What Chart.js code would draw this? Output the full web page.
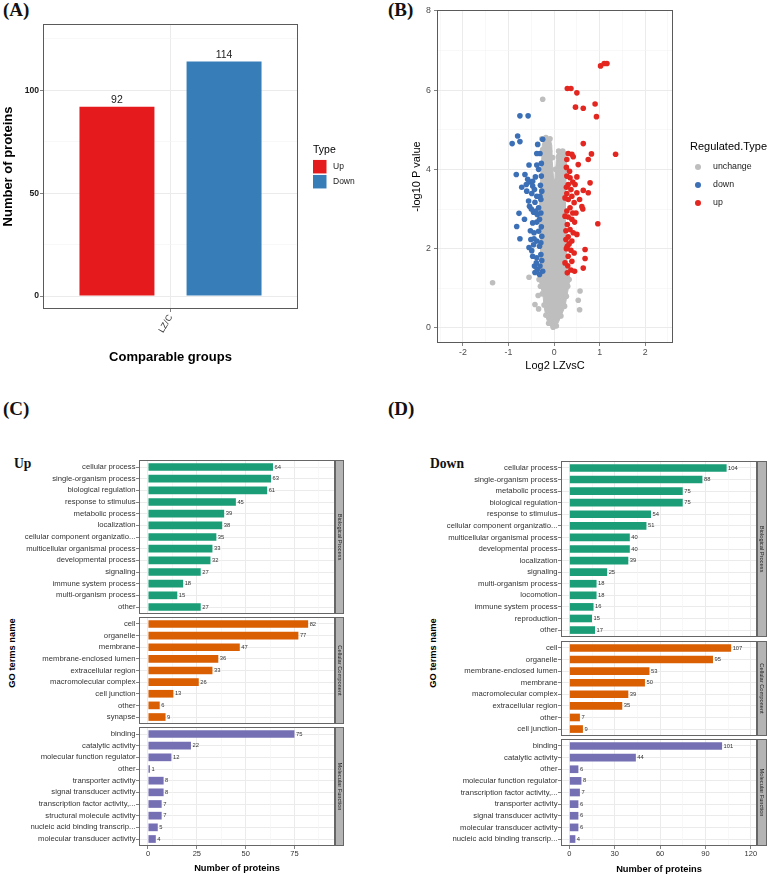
<!DOCTYPE html>
<html>
<head>
<meta charset="utf-8">
<script src="https://cdn.jsdelivr.net/npm/chart.js@4.4.1/dist/chart.umd.min.js"></script>
<style>
  html, body { margin: 0; padding: 0; background: #fff; }
  #fig { position: relative; width: 769px; height: 875px; overflow: hidden; background: #fff; }
  #fig canvas { position: absolute; }
  .tag { position: absolute; font-family: 'Liberation Serif', 'Times New Roman', serif; font-weight: bold; line-height: 1; white-space: nowrap; color: #111; }
  .vtitle { position: absolute; font-family: 'Liberation Sans', Arial, sans-serif; font-weight: bold; font-size: 9.3px; line-height: 1; white-space: nowrap; transform: translate(-50%, -50%) rotate(-90deg); color: #000; }
</style>
</head>
<body>
<div id="fig">
  <div class="tag" style="left:3px;top:0px;font-size:19px">(A)</div>
  <div class="tag" style="left:388px;top:0px;font-size:19px">(B)</div>
  <div class="tag" style="left:3px;top:399px;font-size:19px">(C)</div>
  <div class="tag" style="left:388px;top:399px;font-size:19px">(D)</div>
  <div class="tag" style="left:14px;top:456.6px;font-size:13.6px">Up</div>
  <div class="tag" style="left:430px;top:456.9px;font-size:13.6px">Down</div>
  <div class="vtitle" style="left:13px;top:653px">GO terms name</div>
  <div class="vtitle" style="left:434px;top:653px">GO terms name</div>
  <canvas id="chartA" width="380" height="370" style="left:0;top:0"></canvas>
  <canvas id="chartB" width="389" height="373" style="left:380px;top:0"></canvas>
</div>
<script>
// ---- (A) counts of regulated proteins
var groupLabels = ['LZ/C'];
var upCount = [92];
var downCount = [114];
var aMajorTicks = [0, 50, 100];
var aMinorTicks = [25, 75, 125];

// ---- (B) volcano plot, [log2 FC, -log10 p]
// dense centre of the unchanged cloud (outline)
var coreOutline = [[0.00,-0.03],[0.07,0.08],[0.15,0.29],[0.24,0.54],[0.28,0.80],[0.32,1.04],[0.35,1.25],[0.29,1.55],
  [0.27,2.0],[0.26,2.5],[0.25,3.0],[0.25,3.5],[0.27,3.9],[0.27,4.25],[0.24,4.45],[0.17,4.5],[0.09,4.47],[0.05,4.25],
  [0.02,3.75],[-0.01,3.75],[-0.04,4.2],[-0.05,4.6],[-0.09,4.8],[-0.22,4.8],[-0.26,4.6],[-0.27,4.3],[-0.29,3.9],
  [-0.31,3.3],[-0.31,2.6],[-0.30,2.0],[-0.29,1.6],[-0.34,1.25],[-0.29,1.04],[-0.24,0.79],[-0.22,0.54],[-0.18,0.29],
  [-0.12,0.08],[0.00,-0.03]];
var unchangePoints = [[-1.35,1.14],[-0.55,1.28],[-0.35,0.82],[-0.42,0.59],[-0.34,0.48],[0.57,0.93],[0.53,0.70],[0.56,0.46],
  [-0.25,5.77],[-0.27,4.77],[-0.18,4.80],[-0.09,4.77],[-0.16,4.42],[-0.10,4.46],[0.10,4.46],[0.19,4.46],[0.24,4.40],
  [0.10,4.33],[0.13,4.17],[0.33,1.22],[0.30,1.05],[0.27,0.80],[0.23,0.55],[0.15,0.30],[0.05,0.05],[-0.02,0.02],
  [-0.12,0.12],[-0.18,0.32],[-0.22,0.58],[-0.26,0.86],[-0.30,1.05],[-0.33,1.22],[0.30,1.45],[-0.29,1.50],[0.25,3.6],
  [0.26,4.05],[-0.25,4.5],[-0.03,4.3],[0.03,4.0]];
var downPoints = [[-0.75,5.35],[-0.57,5.35],[-0.80,4.84],[-0.75,4.70],[-0.92,4.65],[-0.36,4.63],[-0.25,4.76],[-0.38,4.40],
  [-0.31,4.40],[-0.55,4.11],[-0.38,4.11],[-0.34,4.00],[-0.83,3.87],[-0.64,3.87],[-0.58,3.75],[-0.53,3.68],[-0.61,3.62],
  [-0.71,3.55],[-0.47,3.58],[-0.60,3.45],[-0.49,3.39],[-0.43,3.49],[-0.38,3.32],[-0.31,3.32],[-0.27,3.45],[-0.56,3.20],
  [-0.54,3.07],[-0.42,3.17],[-0.34,3.03],[-0.45,2.92],[-0.37,2.86],[-0.29,2.90],[-0.77,2.89],[-0.65,2.74],[-0.82,2.56],
  [-0.38,2.67],[-0.47,2.65],[-0.32,2.74],[-0.44,2.40],[-0.34,2.44],[-0.27,2.31],[-0.75,2.25],[-0.51,2.23],[-0.38,2.19],
  [-0.45,2.10],[-0.55,2.03],[-0.32,2.06],[-0.47,1.81],[-0.38,1.77],[-0.29,1.85],[-0.43,1.56],[-0.37,1.47],[-0.31,1.56],
  [-0.32,1.35],[-0.25,1.43],[-0.39,1.64],[-0.29,3.24],[-0.28,3.83],[-0.41,3.81],[-0.47,3.70],[-0.28,2.55],[-0.29,2.15],
  [-0.27,1.70],[-0.30,3.60],[-0.28,4.15],[-0.40,2.95],[-0.44,2.25],[-0.49,1.95],[-0.42,1.40],[-0.50,3.00],[-0.52,2.45]];
var upPoints = [[1.02,6.61],[1.10,6.67],[1.16,6.67],[0.29,6.04],[0.37,6.04],[0.50,5.93],[0.47,5.57],[0.64,5.54],[0.90,5.65],
  [0.93,5.33],[0.64,4.65],[0.82,4.39],[1.35,4.38],[0.75,4.25],[0.53,4.12],[0.31,4.40],[0.39,4.38],[0.42,4.32],[0.28,4.25],
  [0.79,3.66],[0.64,3.47],[0.75,3.41],[0.56,3.24],[0.61,3.06],[0.63,3.00],[0.96,2.63],[0.50,2.36],[0.68,1.98],[0.68,1.75],
  [0.64,1.51],[0.28,3.83],[0.35,3.79],[0.50,3.81],[0.41,3.68],[0.31,3.62],[0.46,3.62],[0.37,3.49],[0.28,3.39],[0.39,3.32],
  [0.31,3.24],[0.44,3.16],[0.35,3.03],[0.28,2.95],[0.41,2.90],[0.31,2.80],[0.39,2.74],[0.45,2.67],[0.29,2.61],[0.35,2.48],
  [0.42,2.40],[0.31,2.30],[0.39,2.19],[0.29,2.06],[0.37,1.96],[0.44,1.89],[0.31,1.81],[0.39,1.68],[0.30,1.57],[0.37,1.46],
  [0.45,1.43],[0.29,1.39],[0.24,3.28],[0.24,2.82],[0.26,2.23],[0.24,1.64],[0.50,3.41],[0.48,2.90],[0.27,3.55],[0.26,2.45],
  [0.27,2.00],[0.33,2.12],[0.34,3.95],[0.27,4.05]];
var bXMajor = [-2, -1, 0, 1, 2];
var bXMinor = [-2.5, -1.5, -0.5, 0.5, 1.5, 2.5];
var bYMajor = [0, 2, 4, 6, 8];
var bYMinor = [1, 3, 5, 7];

// ---- (C) GO terms of up-regulated proteins
var upBpTerms = ['cellular process', 'single-organism process', 'biological regulation', 'response to stimulus',
  'metabolic process', 'localization', 'cellular component organizatio...', 'multicellular organismal process',
  'developmental process', 'signaling', 'immune system process', 'multi-organism process', 'other'];
var upBpCounts = [64, 63, 61, 45, 39, 38, 35, 33, 32, 27, 18, 15, 27];
var upCcTerms = ['cell', 'organelle', 'membrane', 'membrane-enclosed lumen', 'extracellular region',
  'macromolecular complex', 'cell junction', 'other', 'synapse'];
var upCcCounts = [82, 77, 47, 36, 33, 26, 13, 6, 9];
var upMfTerms = ['binding', 'catalytic activity', 'molecular function regulator', 'other', 'transporter activity',
  'signal transducer activity', 'transcription factor activity,...', 'structural molecule activity',
  'nucleic acid binding transcrip...', 'molecular transducer activity'];
var upMfCounts = [75, 22, 12, 1, 8, 8, 7, 7, 5, 4];
var upXMajor = [0, 25, 50, 75];
var upXMinor = [12.5, 37.5, 62.5, 87.5];

// ---- (D) GO terms of down-regulated proteins
var downBpTerms = ['cellular process', 'single-organism process', 'metabolic process', 'biological regulation',
  'response to stimulus', 'cellular component organizatio...', 'multicellular organismal process',
  'developmental process', 'localization', 'signaling', 'multi-organism process', 'locomotion',
  'immune system process', 'reproduction', 'other'];
var downBpCounts = [104, 88, 75, 75, 54, 51, 40, 40, 39, 25, 18, 18, 16, 15, 17];
var downCcTerms = ['cell', 'organelle', 'membrane-enclosed lumen', 'membrane', 'macromolecular complex',
  'extracellular region', 'other', 'cell junction'];
var downCcCounts = [107, 95, 53, 50, 39, 35, 7, 9];
var downMfTerms = ['binding', 'catalytic activity', 'other', 'molecular function regulator',
  'transcription factor activity,...', 'transporter activity', 'signal transducer activity',
  'molecular transducer activity', 'nucleic acid binding transcrip...'];
var downMfCounts = [101, 44, 6, 8, 7, 6, 6, 6, 4];
var downXMajor = [0, 30, 60, 90, 120];
var downXMinor = [15, 45, 75, 105];

var SANS = "'Liberation Sans', Arial, sans-serif";
Chart.defaults.font.family = SANS;
Chart.defaults.color = '#333';

function pts(list) {
    return list.map(function (p) { return { x: p[0], y: p[1] }; });
}

function fixAxis(size, horizontal) {
    return function (s) {
        if (horizontal) {
            s.height = size;
        } else {
            s.width = size;
        }
        s.paddingTop = 0;
        s.paddingBottom = 0;
        s.paddingLeft = 0;
        s.paddingRight = 0;
    };
}

function setTicks(values) {
    return function (s) {
        s.ticks = values.map(function (v) { return { value: v }; });
    };
}

function isMinor(minors, c) {
    return !!(c.tick && minors.indexOf(c.tick.value) >= 0);
}

function gridOpts(minors, tickLen) {
    return {
        offset: false,
        color: function (c) { return isMinor(minors, c) ? '#f4f4f4' : '#ebebeb'; },
        lineWidth: function (c) { return isMinor(minors, c) ? 0.6 : 1; },
        tickColor: function (c) { return isMinor(minors, c) ? 'rgba(0,0,0,0)' : '#4d4d4d'; },
        tickLength: tickLen,
        tickWidth: 0.7,
        drawTicks: tickLen > 0
    };
}

function majorLabel(minors) {
    return function (v) { return minors.indexOf(v) >= 0 ? '' : String(v); };
}

function sorted(a, b) {
    return a.concat(b).sort(function (p, q) { return p - q; });
}

// border round the plotting panel
var panelBox = {
    id: 'panelBox',
    afterDraw: function (chart, args, o) {
        var a = chart.chartArea, ctx = chart.ctx;
        ctx.save();
        ctx.strokeStyle = o.color || '#555';
        ctx.lineWidth = 1;
        ctx.strokeRect(a.left + 0.5, a.top + 0.5, a.right - a.left - 1, a.bottom - a.top - 1);
        ctx.restore();
    }
};

// numbers printed next to the bars
var barValues = {
    id: 'barValues',
    afterDatasetsDraw: function (chart, args, o) {
        var ctx = chart.ctx;
        ctx.save();
        ctx.font = o.font;
        ctx.fillStyle = o.color || '#333';
        chart.data.datasets.forEach(function (ds, i) {
            chart.getDatasetMeta(i).data.forEach(function (bar, j) {
                var v = ds.data[j];
                if (typeof v === 'object') {
                    v = v.x;
                }
                if (o.mode === 'end') {
                    ctx.textAlign = 'left';
                    ctx.textBaseline = 'middle';
                    ctx.fillText(String(v), bar.x + o.offset, bar.y);
                } else {
                    ctx.textAlign = 'center';
                    ctx.textBaseline = 'bottom';
                    ctx.fillText(String(v), bar.x, bar.y - o.offset);
                }
            });
        });
        ctx.restore();
    }
};

// facet strip on the right
var stripPlugin = {
    id: 'strip',
    afterDraw: function (chart, args, o) {
        var a = chart.chartArea, ctx = chart.ctx;
        var h = a.bottom - a.top;
        ctx.save();
        ctx.fillStyle = '#b4b4b4';
        ctx.fillRect(a.right, a.top, o.width, h);
        ctx.strokeStyle = '#666';
        ctx.lineWidth = 1;
        ctx.strokeRect(a.right + 0.5, a.top + 0.5, o.width - 1, h - 1);
        ctx.translate(a.right + o.width / 2, a.top + h / 2);
        ctx.rotate(Math.PI / 2);
        ctx.fillStyle = '#1a1a1a';
        ctx.font = '5.7px ' + SANS;
        ctx.textAlign = 'center';
        ctx.textBaseline = 'middle';
        ctx.fillText(o.text, 0, 0);
        ctx.restore();
    }
};

// ggplot style legend to the right of the panel
var keyLegend = {
    id: 'keyLegend',
    afterDraw: function (chart, args, o) {
        var ctx = chart.ctx;
        ctx.save();
        ctx.textAlign = 'left';
        ctx.textBaseline = 'middle';
        ctx.fillStyle = '#000';
        ctx.font = o.titleFont;
        ctx.fillText(o.title, o.x, o.titleY);
        ctx.font = o.labelFont;
        o.entries.forEach(function (di, k) {
            var ds = chart.data.datasets[di];
            var cy = o.firstY + k * o.step;
            ctx.fillStyle = ds.backgroundColor;
            if (o.shape === 'dot') {
                ctx.beginPath();
                ctx.arc(o.keyX, cy, o.size, 0, Math.PI * 2);
                ctx.fill();
            } else {
                ctx.fillRect(o.keyX, cy - o.size / 2, o.size, o.size);
            }
            ctx.fillStyle = '#1a1a1a';
            ctx.fillText(ds.label, o.textX, cy);
        });
        ctx.restore();
    }
};

// ---------- (A)
new Chart(document.getElementById('chartA'), {
    type: 'bar',
    data: {
        labels: groupLabels,
        datasets: [
            { label: 'Up', data: upCount, backgroundColor: '#e41a1c', categoryPercentage: 0.84, barPercentage: 0.70 },
            { label: 'Down', data: downCount, backgroundColor: '#377eb8', categoryPercentage: 0.84, barPercentage: 0.70 }
        ]
    },
    options: {
        responsive: false,
        animation: false,
        layout: { padding: { top: 24, right: 82, left: 0, bottom: 0 } },
        plugins: {
            legend: { display: false },
            tooltip: { enabled: false },
            panelBox: { color: '#5a5a5a' },
            barValues: { mode: 'top', font: '10.5px ' + SANS, color: '#222', offset: 1 },
            keyLegend: {
                title: 'Type', titleFont: '10.5px ' + SANS, labelFont: '8.5px ' + SANS,
                x: 313, titleY: 150, keyX: 313, size: 13.5, firstY: 166.7, step: 15, textX: 333,
                shape: 'rect', entries: [0, 1]
            }
        },
        scales: {
            x: {
                grid: { offset: false, color: '#ebebeb', tickLength: 3, tickColor: '#4d4d4d', tickWidth: 0.7 },
                border: { display: false },
                ticks: { minRotation: 60, maxRotation: 60, padding: 1, font: { size: 8.8 }, color: '#333' },
                title: { display: true, text: 'Comparable groups', color: '#000',
                    font: { size: 13, weight: 'bold' }, padding: { top: 0, bottom: 5 } },
                afterFit: fixAxis(61, true)
            },
            y: {
                min: -6.3,
                max: 132.2,
                afterBuildTicks: setTicks(sorted(aMajorTicks, aMinorTicks)),
                grid: gridOpts(aMinorTicks, 3),
                border: { display: false },
                ticks: { padding: 1, font: { size: 8.6, weight: 'bold' }, color: '#1a1a1a',
                    callback: majorLabel(aMinorTicks) },
                title: { display: true, text: 'Number of proteins', color: '#000',
                    font: { size: 13, weight: 'bold' }, padding: { top: 0.5, bottom: 0 } },
                afterFit: fixAxis(43, false)
            }
        }
    },
    plugins: [panelBox, barValues, keyLegend]
});

// ---------- (B)
var GREY = '#bebebe';
new Chart(document.getElementById('chartB'), {
    type: 'scatter',
    data: {
        datasets: [
            { label: 'core', data: pts(coreOutline), showLine: true, fill: 'shape', backgroundColor: GREY,
              borderColor: GREY, borderWidth: 1, pointRadius: 0, order: 4 },
            { label: 'unchange', data: pts(unchangePoints), backgroundColor: GREY, pointRadius: 2.8, borderWidth: 0, order: 3 },
            { label: 'down', data: pts(downPoints), backgroundColor: '#3b6fb6', pointRadius: 2.8, borderWidth: 0, order: 2 },
            { label: 'up', data: pts(upPoints), backgroundColor: '#e3261f', pointRadius: 2.8, borderWidth: 0, order: 1 }
        ]
    },
    options: {
        responsive: false,
        animation: false,
        layout: { padding: { top: 10, right: 96, left: 28, bottom: 0 } },
        plugins: {
            legend: { display: false },
            tooltip: { enabled: false },
            panelBox: { color: '#5a5a5a' },
            keyLegend: {
                title: 'Regulated.Type', titleFont: '11px ' + SANS, labelFont: '8.8px ' + SANS,
                x: 310, titleY: 147, keyX: 318, size: 3, firstY: 167, step: 18, textX: 333,
                shape: 'dot', entries: [1, 2, 3]
            }
        },
        scales: {
            x: {
                type: 'linear',
                min: -2.57,
                max: 2.61,
                afterBuildTicks: setTicks(sorted(bXMajor, bXMinor)),
                grid: gridOpts(bXMinor, 3),
                border: { display: false },
                ticks: { padding: 1, maxRotation: 0, autoSkip: false, font: { size: 8.8 }, color: '#4d4d4d',
                    callback: majorLabel(bXMinor) },
                title: { display: true, text: 'Log2 LZvsC', color: '#000', font: { size: 11 },
                    padding: { top: 0, bottom: 0.4 } },
                afterFit: fixAxis(30, true)
            },
            y: {
                min: -0.38,
                max: 8.02,
                afterBuildTicks: setTicks(sorted(bYMajor, bYMinor)),
                grid: gridOpts(bYMinor, 3),
                border: { display: false },
                ticks: { padding: 3, autoSkip: false, font: { size: 8.8 }, color: '#4d4d4d',
                    callback: majorLabel(bYMinor) },
                title: { display: true, text: '-log10 P value', color: '#000', font: { size: 11 },
                    padding: { top: 2.4, bottom: 0 } },
                afterFit: fixAxis(29, false)
            }
        }
    },
    plugins: [panelBox, keyLegend]
});

// ---------- (C) and (D): one chart per facet
var fig = document.getElementById('fig');

function facet(o) {
    var pad = 6;
    var top = o.top - pad;
    var height = o.last ? 875 - top : (o.bottom - o.top) + 2 * pad;
    var canvas = document.createElement('canvas');
    canvas.width = o.width;
    canvas.height = height;
    canvas.style.left = o.left + 'px';
    canvas.style.top = top + 'px';
    fig.appendChild(canvas);

    var n = o.terms.length;
    var rows = o.terms.map(function (t, i) { return { x: o.counts[i], y: i }; });
    var rowTicks = o.terms.map(function (t, i) { return i; });

    return new Chart(canvas, {
        type: 'bar',
        data: {
            datasets: [{ label: o.strip, data: rows, backgroundColor: o.color,
                categoryPercentage: 1, barPercentage: 0.66 }]
        },
        options: {
            indexAxis: 'y',
            responsive: false,
            animation: false,
            layout: { padding: { top: pad, bottom: o.last ? 0 : pad, left: 0, right: o.padRight } },
            plugins: {
                legend: { display: false },
                tooltip: { enabled: false },
                panelBox: { color: '#666' },
                barValues: { mode: 'end', font: '5.8px ' + SANS, color: '#333', offset: 1.5 },
                strip: { text: o.strip, width: o.stripWidth }
            },
            scales: {
                y: {
                    type: 'linear',
                    reverse: true,
                    offset: false,
                    min: -0.6,
                    max: n - 0.4,
                    afterBuildTicks: setTicks(rowTicks),
                    grid: { offset: false, color: '#ebebeb', lineWidth: 1, tickLength: 3,
                        tickColor: '#4d4d4d', tickWidth: 0.7 },
                    border: { display: false },
                    ticks: { autoSkip: false, padding: 0.5, font: { size: 7.7 }, color: '#333',
                        callback: function (v) { return o.terms[v]; } },
                    afterFit: fixAxis(o.axisWidth, false)
                },
                x: {
                    type: 'linear',
                    offset: false,
                    min: o.xMin,
                    max: o.xMax,
                    afterBuildTicks: setTicks(sorted(o.majors, o.minors)),
                    grid: gridOpts(o.minors, o.last ? 3 : 0),
                    border: { display: false },
                    ticks: { display: o.last, autoSkip: false, maxRotation: 0, padding: 0,
                        font: { size: 7.5 }, color: '#333', callback: majorLabel(o.minors) },
                    title: { display: o.last, text: 'Number of proteins', color: '#000',
                        font: { size: 9.3, weight: 'bold' }, padding: { top: 0, bottom: o.titlePad } },
                    afterFit: fixAxis(o.last ? 875 - o.bottom : 0, true)
                }
            }
        },
        plugins: [panelBox, barValues, stripPlugin]
    });
}

var GREEN = '#1b9e77', ORANGE = '#d95f02', PURPLE = '#7570b3';
var cBase = { left: 0, width: 385, axisWidth: 139, padRight: 50, stripWidth: 9,
    xMin: -4.6, xMax: 95.75, majors: upXMajor, minors: upXMinor, titlePad: 1.4 };
var dBase = { left: 385, width: 384, axisWidth: 176, padRight: 12, stripWidth: 10,
    xMin: -5.5, xMax: 124.1, majors: downXMajor, minors: downXMinor, titlePad: 0.4 };

function spec(base, extra) {
    var s = {};
    Object.keys(base).forEach(function (k) { s[k] = base[k]; });
    Object.keys(extra).forEach(function (k) { s[k] = extra[k]; });
    return s;
}

facet(spec(cBase, { terms: upBpTerms, counts: upBpCounts, color: GREEN, strip: 'Biological Process', top: 460, bottom: 614, last: false }));
facet(spec(cBase, { terms: upCcTerms, counts: upCcCounts, color: ORANGE, strip: 'Cellular Component', top: 617, bottom: 724, last: false }));
facet(spec(cBase, { terms: upMfTerms, counts: upMfCounts, color: PURPLE, strip: 'Molecular Function', top: 727, bottom: 846, last: true }));

facet(spec(dBase, { terms: downBpTerms, counts: downBpCounts, color: GREEN, strip: 'Biological Process', top: 461, bottom: 637, last: false }));
facet(spec(dBase, { terms: downCcTerms, counts: downCcCounts, color: ORANGE, strip: 'Cellular Component', top: 641, bottom: 736, last: false }));
facet(spec(dBase, { terms: downMfTerms, counts: downMfCounts, color: PURPLE, strip: 'Molecular Function', top: 739, bottom: 846, last: true }));
</script>
</body>
</html>
